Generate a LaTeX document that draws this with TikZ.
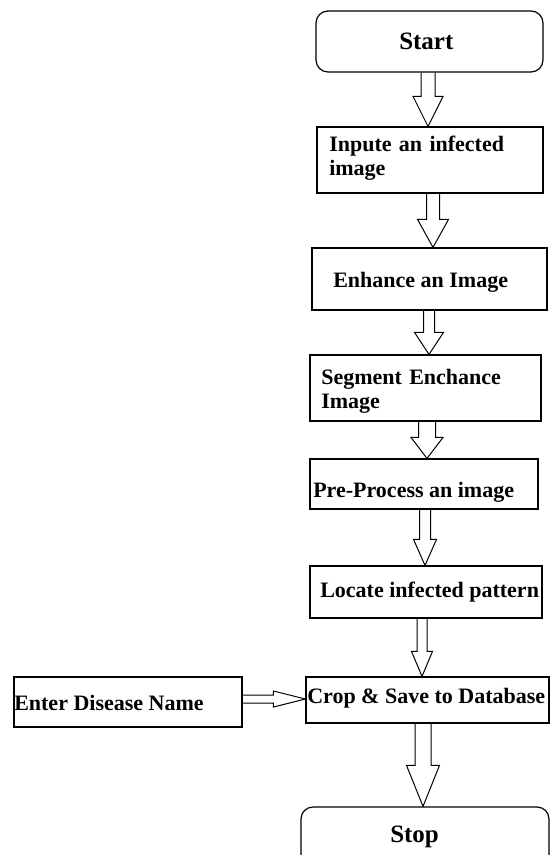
\documentclass[tikz,border=0pt]{standalone}
\usepackage{fontspec}
\setmainfont{Liberation Serif}
\usetikzlibrary{calc}
\tikzset{
  box/.style={draw, line width=0.9pt, inner sep=0pt},
  term/.style={box, rounded corners=9pt},
  lbl/.style={inner sep=0pt, anchor=base west, font=\fontsize{16.5}{18}\selectfont\bfseries},
  biglbl/.style={lbl, font=\fontsize{18.75}{22}\selectfont\bfseries},
  twoline/.style={lbl, align=left, text width=200*0.75pt},
  varrow/.style n args={3}{line width=0.75pt, to path={let \p1=(\tikztostart), \p2=(\tikztotarget) in
    (\x2-#1*0.75pt,\y1) -- (\x2-#1*0.75pt,\y2+#3*0.75pt) -- (\x2-#2*0.75pt,\y2+#3*0.75pt) -- (\x2,\y2)
    -- (\x2+#2*0.75pt,\y2+#3*0.75pt) -- (\x2+#1*0.75pt,\y2+#3*0.75pt) -- (\x2+#1*0.75pt,\y1)}},
  harrow/.style n args={3}{line width=0.75pt, to path={let \p1=(\tikztostart), \p2=(\tikztotarget) in
    (\x1,\y2+#1*0.75pt) -- (\x2-#3*0.75pt,\y2+#1*0.75pt) -- (\x2-#3*0.75pt,\y2+#2*0.75pt) -- (\x2,\y2)
    -- (\x2-#3*0.75pt,\y2-#2*0.75pt) -- (\x2-#3*0.75pt,\y2-#1*0.75pt) -- (\x1,\y2-#1*0.75pt)}},
}
\begin{document}
\begin{tikzpicture}[x=0.75pt, y=-0.75pt]
\useasboundingbox (0,0) rectangle (550,855);
% boxes
\node[term, minimum width=227*0.75pt, minimum height=61*0.75pt] (start) at (429.5,41.5) {};
\node[box, minimum width=226*0.75pt, minimum height=66*0.75pt] (in1) at (430,160) {};
\node[box, minimum width=235*0.75pt, minimum height=62*0.75pt] (enh) at (429.5,279) {};
\node[box, minimum width=231*0.75pt, minimum height=66*0.75pt] (seg) at (425.5,388) {};
\node[box, minimum width=228*0.75pt, minimum height=50*0.75pt] (pre) at (424,484) {};
\node[box, minimum width=232*0.75pt, minimum height=52*0.75pt] (loc) at (426,592) {};
\node[box, minimum width=243*0.75pt, minimum height=46*0.75pt] (crop) at (427.5,700) {};
\node[box, minimum width=228*0.75pt, minimum height=50*0.75pt] (enter) at (128,702) {};
\node[term, minimum width=248*0.75pt, minimum height=70*0.75pt] (stop) at (425,842) {};
% texts
\node[biglbl] (tstart) at (399,50) {Start};
\node[twoline] (tin1) at (329,152) {\mbox{Inpute an infected}\\\mbox{image}};
\node[lbl] (tenh) at (333,287) {Enhance an Image};
\node[twoline] (tseg) at (321,384) {\mbox{Segment Enchance}\\\mbox{Image}};
\node[lbl] (tpre) at (313,497) {Pre-Process an image};
\node[lbl] (tloc) at (320,597) {Locate infected pattern};
\node[lbl] (tcrop) at (307,703) {Crop \& Save to Database};
\node[lbl] (tenter) at (14,710) {Enter Disease Name};
\node[biglbl] (tstop) at (390,842) {Stop};
% block arrows
\draw[varrow={7}{15}{30}] (start.south) to ($(in1.north)+(-2,0)$);
\draw[varrow={6.5}{15.5}{28}] (in1.south) to ($(enh.north)+(3.5,0)$);
\draw[varrow={5.5}{14.5}{22}] (enh.south) to ($(seg.north)+(3.5,0)$);
\draw[varrow={8.5}{16}{21}] (seg.south) to ($(pre.north)+(3,0)$);
\draw[varrow={5.5}{11.5}{26}] (pre.south) to ($(loc.north)+(-1,0)$);
\draw[varrow={5}{10.5}{25}] (loc.south) to ($(crop.north)+(-5.5,0)$);
\draw[varrow={8}{16.5}{41}] (crop.south) to ($(stop.north)+(-2,0)$);
\draw[harrow={4}{8}{32}] (enter.east) to ($(crop.west)+(0,-1)$);
\end{tikzpicture}
\end{document}
